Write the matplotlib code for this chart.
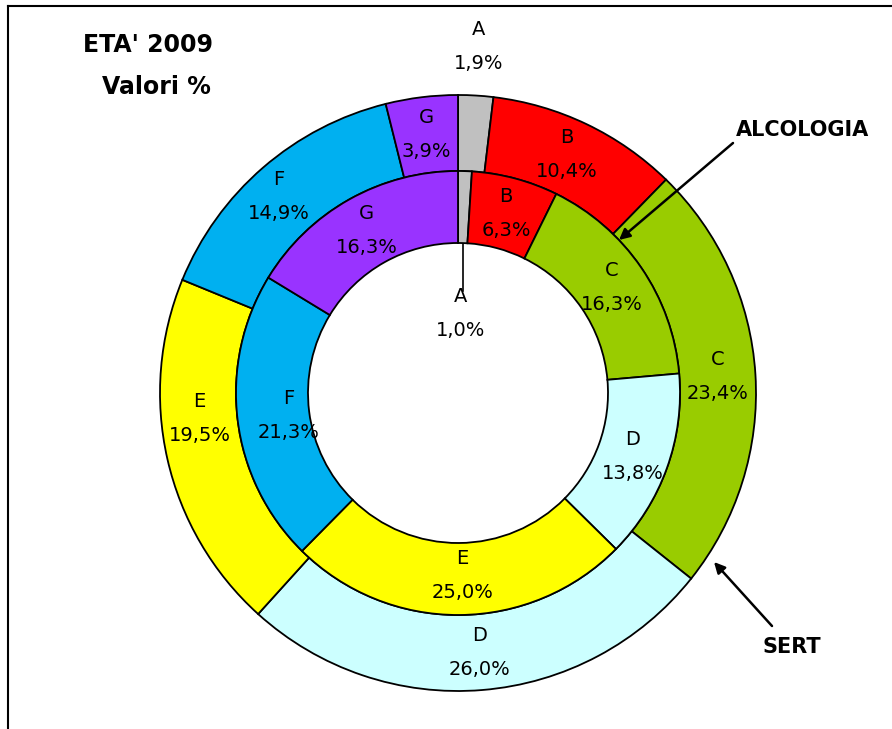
import matplotlib
matplotlib.use("Agg")
import matplotlib.pyplot as plt
import numpy as np

# ETA' 2009 - percentage by class, two services
categories = ["A", "B", "C", "D", "E", "F", "G"]
sert = [1.9, 10.4, 23.4, 26.0, 19.5, 14.9, 3.9]          # outer ring
alcologia = [1.0, 6.3, 16.3, 13.8, 25.0, 21.3, 16.3]     # inner ring
colors = ["#C0C0C0", "#FF0000", "#99CC00", "#CCFFFF", "#FFFF00", "#00B0F0", "#9933FF"]

W, H = 892, 729
CX, CY = 458, H - 393
R_OUT, R_MID, R_IN = 298, 222, 150

# small label nudges (pixels) where the original placement differs
outer_nudge = {"F": (-9, 0), "E": (-5, 32), "B": (-3, 4)}
inner_nudge = {"F": (15, 0), "E": (3, 3)}


def pct(v):
    return f"{v:.1f}".replace(".", ",") + "%"


def polar(r, ang_deg):
    # angle measured clockwise from the top
    a = np.deg2rad(ang_deg)
    return CX + r * np.sin(a), CY + r * np.cos(a)


fig = plt.figure(figsize=(W / 100, H / 100), dpi=100)
ax = fig.add_axes([0, 0, 1, 1])

edge = dict(edgecolor="black", linewidth=1.3)
ax.pie(sert, colors=colors, radius=R_OUT, center=(CX, CY), startangle=90,
       counterclock=False, wedgeprops=dict(width=R_OUT - R_MID, **edge), frame=True)
ax.pie(alcologia, colors=colors, radius=R_MID, center=(CX, CY), startangle=90,
       counterclock=False, wedgeprops=dict(width=R_MID - R_IN, **edge), frame=True)
ax.set_xlim(0, W)
ax.set_ylim(0, H)
ax.set_aspect("equal")
ax.axis("off")

fs = 14


def label(x, y, cat, v):
    ax.text(x, y + 17, cat, ha="center", va="center", fontsize=fs)
    ax.text(x, y - 17, pct(v), ha="center", va="center", fontsize=fs)


# outer ring labels
cum = 0.0
for cat, v in zip(categories, sert):
    mid = (cum + v / 2) * 3.6
    cum += v
    r = 347 if cat == "A" else (R_OUT + R_MID) / 2
    x, y = polar(r, mid)
    dx, dy = outer_nudge.get(cat, (0, 0))
    label(x + dx, y + dy, cat, v)

# inner ring labels
cum = 0.0
for cat, v in zip(categories, alcologia):
    mid = (cum + v / 2) * 3.6
    cum += v
    if cat == "A":
        x0, y0 = polar(R_IN - 1, mid)
        ax.plot([x0, x0], [y0, y0 - 47], color="black", lw=1.2)
        x, y = polar(80, mid)
    else:
        x, y = polar((R_MID + R_IN) / 2, mid)
    dx, dy = inner_nudge.get(cat, (0, 0))
    label(x + dx, y + dy, cat, v)

# title
ax.text(148, H - 45, "ETA' 2009", ha="center", va="center", fontsize=17, fontweight="bold")
ax.text(156, H - 87, "Valori %", ha="center", va="center", fontsize=17, fontweight="bold")

# annotations
ax.text(803, H - 130, "ALCOLOGIA", ha="center", va="center", fontsize=15, fontweight="bold")
ax.annotate("", xy=(619, H - 240), xytext=(733, H - 143),
            arrowprops=dict(arrowstyle="-|>", color="black", lw=1.8,
                            shrinkA=0, shrinkB=0, mutation_scale=16))
ax.text(792, H - 647, "SERT", ha="center", va="center", fontsize=15, fontweight="bold")
ax.annotate("", xy=(714, H - 562), xytext=(772, H - 626),
            arrowprops=dict(arrowstyle="-|>", color="black", lw=1.8,
                            shrinkA=0, shrinkB=0, mutation_scale=16))

# frame
ax.plot([8, 8], [0, H - 6], color="black", lw=1.5)
ax.plot([8, W], [H - 6, H - 6], color="black", lw=1.5)

fig.savefig("out.png", dpi=100)
